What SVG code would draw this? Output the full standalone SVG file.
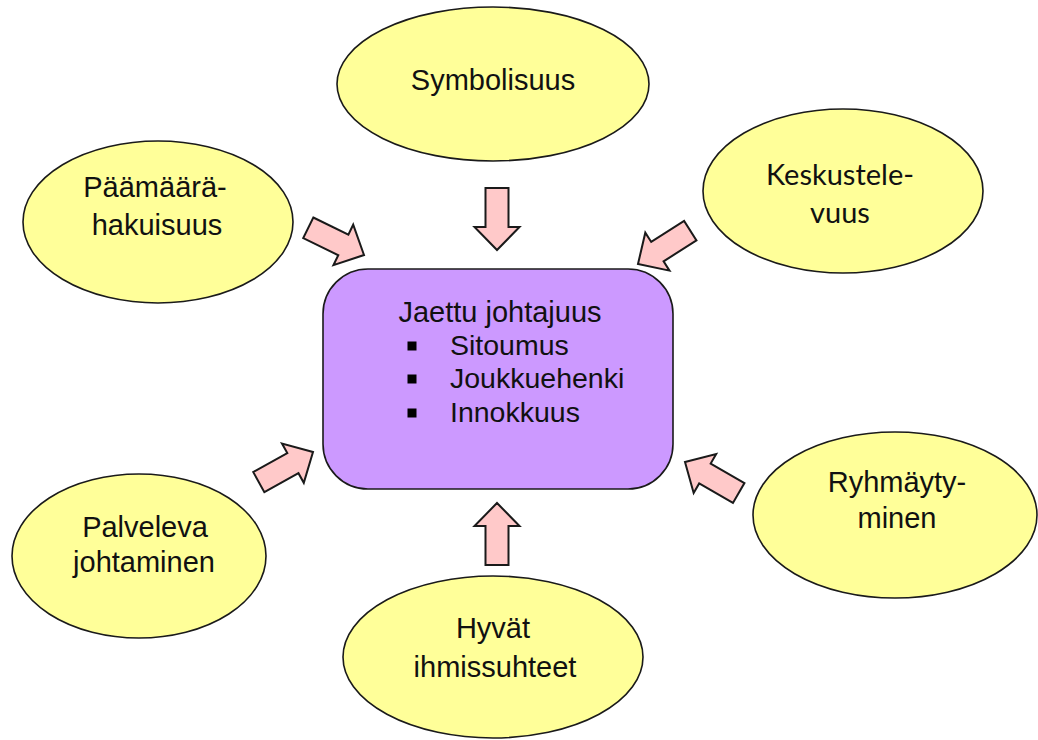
<svg xmlns="http://www.w3.org/2000/svg" width="1038" height="740" viewBox="0 0 1038 740">
<style>
.ell{fill:#FFFF99;stroke:#1a1a1a;stroke-width:1.6}
.box{fill:#CC99FF;stroke:#1a1a1a;stroke-width:1.6}
.arr{fill:#FFC9C9;stroke:#1a1a1a;stroke-width:2;stroke-linejoin:miter}
.t{font-family:"Liberation Sans",Arial,sans-serif;font-size:29px;fill:#111;text-anchor:middle}
.tl{font-family:"Liberation Sans",Arial,sans-serif;font-size:28.5px;fill:#111}
.c{font-family:Lato,"Open Sans",sans-serif;font-size:29px;fill:#111;text-anchor:middle}
.b{fill:#000}
</style>
<defs>
<path id="ba" d="M-62,-11.5 L-23,-11.5 L-23,-22.5 L0,0 L-23,22.5 L-23,11.5 L-62,11.5 Z"/>
</defs>
<rect width="1038" height="740" fill="#fff"/>
<g id="connectors">
<use href="#ba" class="arr" transform="translate(497,250) rotate(90)"/>
<use href="#ba" class="arr" transform="translate(497,503) rotate(-90)"/>
<use href="#ba" class="arr" transform="translate(364,255) rotate(26)"/>
<use href="#ba" class="arr" transform="translate(638,264) rotate(147.5)"/>
<use href="#ba" class="arr" transform="translate(313,452) rotate(-29)"/>
<use href="#ba" class="arr" transform="translate(685,462) rotate(210)"/>
</g>
<g id="center">
<rect class="box" x="323" y="269" width="350" height="220" rx="45" ry="45"/>
<text class="t" x="500" y="322">Jaettu johtajuus</text>
<rect class="b" x="407.5" y="341.5" width="9" height="9"/>
<rect class="b" x="407.5" y="374.5" width="9" height="9"/>
<rect class="b" x="407.5" y="408.5" width="9" height="9"/>
<text class="tl" x="450" y="355">Sitoumus</text>
<text class="tl" x="450" y="388">Joukkuehenki</text>
<text class="tl" x="450" y="422">Innokkuus</text>
</g>
<g id="symbolisuus">
<ellipse class="ell" cx="493" cy="84" rx="156" ry="77"/>
<text class="t" x="493" y="90">Symbolisuus</text>
</g>
<g id="paamaara">
<ellipse class="ell" cx="158" cy="222" rx="135" ry="81"/>
<text class="t" x="155" y="197">Päämäärä-</text>
<text class="t" x="157" y="235">hakuisuus</text>
</g>
<g id="keskustele">
<ellipse class="ell" cx="843" cy="191" rx="140" ry="82"/>
<text class="c" x="840" y="185">Keskustele-</text>
<text class="c" x="840" y="223">vuus</text>
</g>
<g id="palveleva">
<ellipse class="ell" cx="139" cy="556" rx="127" ry="82"/>
<text class="t" x="145" y="537">Palveleva</text>
<text class="t" x="144" y="572">johtaminen</text>
</g>
<g id="hyvat">
<ellipse class="ell" cx="493" cy="657" rx="150" ry="81"/>
<text class="t" x="493" y="638">Hyvät</text>
<text class="t" x="495" y="677">ihmissuhteet</text>
</g>
<g id="ryhmaytyminen">
<ellipse class="ell" cx="895" cy="515" rx="142" ry="83"/>
<text class="t" x="897" y="492">Ryhmäyty-</text>
<text class="t" x="897" y="528">minen</text>
</g>
</svg>
